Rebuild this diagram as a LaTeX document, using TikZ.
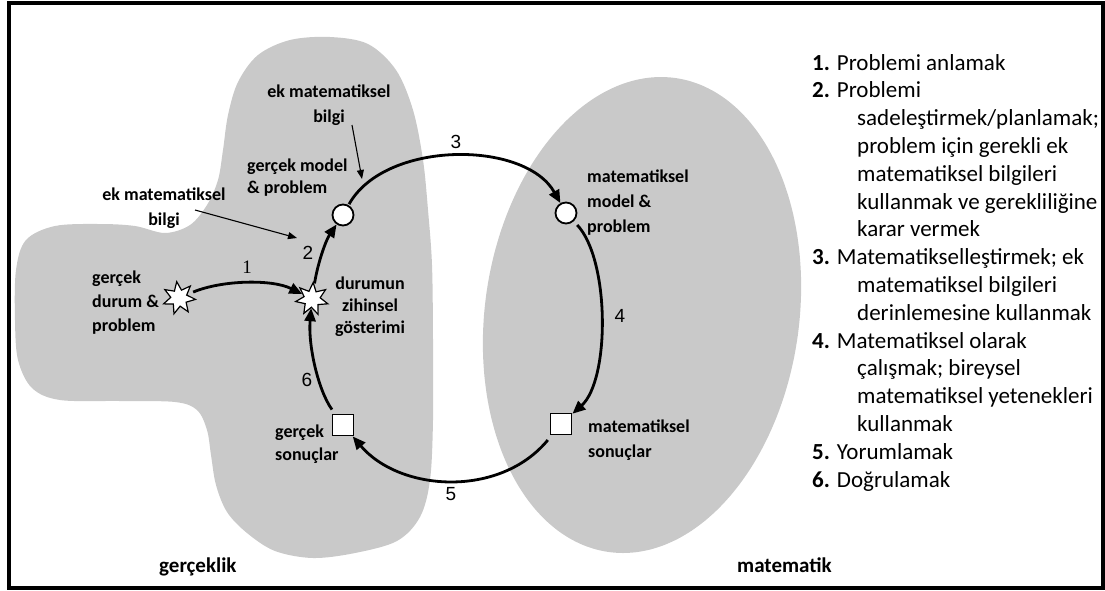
\documentclass[tikz,border=0pt]{standalone}
\usepackage{fontspec}
\setmainfont{Carlito}
\newfontfamily\numfont{Liberation Sans}
\newfontfamily\serifnum{Liberation Serif}
\usetikzlibrary{arrows.meta,shapes.geometric}
\definecolor{regiongray}{RGB}{201,201,201}

\begin{document}
\begin{tikzpicture}[x=1pt,y=-1pt,
  region/.style={fill=regiongray, draw=none},
  cycarrow/.style={line width=2.8pt, -{Triangle[length=13pt,width=11pt]}, shorten <=3pt},
  infoarrow/.style={line width=1.1pt, -{Triangle[length=9pt,width=7pt]}},
  burst/.style={star, star points=7, star point ratio=2, minimum size=33pt,
                inner sep=0pt, draw, line width=1.2pt, fill=white},
  modelnode/.style={circle, minimum size=21pt, inner sep=0pt, draw, line width=1.8pt, fill=white},
  resultnode/.style={rectangle, minimum size=21pt, inner sep=0pt, draw, line width=1.8pt, fill=white},
  lbl/.style={inner sep=0pt, font=\bfseries\fontsize{18}{#1}\selectfont},
  lbl/.default=22,
  regionlbl/.style={inner sep=0pt, anchor=base west, font=\bfseries\fontsize{21}{24}\selectfont},
  cyclenum/.style={inner sep=0pt, font=\numfont\fontsize{19}{22}\selectfont},
  listtext/.style={inner sep=0pt, align=left, font=\fontsize{23}{27.8}\selectfont},
]
\useasboundingbox (0,0) rectangle (1105,590);

% reality region
\fill[region] plot[smooth cycle, tension=0.55] coordinates {
  (330,37) (368,44) (396,70) (413,110) (423,160) (428,210) (432,265) (433,340)
  (433,420) (430,480) (420,517) (397,541) (355,553) (313,558) (275,551) (247,533)
  (227,512) (216,485) (211,455) (207,430) (197,410) (175,402) (120,401) (60,400)
  (32,388) (18,360) (15,320) (16,270) (26,240) (55,226) (100,224) (135,226)
  (165,233) (190,225) (207,205) (218,180) (223,150) (228,115) (238,82) (258,55) (290,40)};

% mathematics region: a slightly slanted oval
\fill[region] plot[domain=0:355, samples=72, smooth cycle]
  ({642+158*cos(\x)+19*sin(\x)}, {315-238*sin(\x)});

% cycle stations
\node[burst, rotate=8] (s1) at (179,298) {};
\node[burst, rotate=-4] (s2) at (312,299) {};
\node[modelnode] (c1) at (343,215) {};
\node[modelnode] (c2) at (566,213) {};
\node[resultnode] (q2) at (561,424) {};
\node[resultnode] (q1) at (343,425) {};

% station labels
\node[lbl=24, align=left, anchor=north west] (lreal) at (92,270.5) {gerçek\\durum \&\\problem};
\node[lbl=22, align=center, anchor=north] (lmental) at (370,276.5) {durumun\\zihinsel\\gösterimi};
\node[lbl=22, align=left, anchor=north west] (lrmodel) at (247,158.5) {gerçek model\\\& problem};
\node[lbl=25, align=center, anchor=north] (lextra1) at (329,84.5) {ek matematiksel\\bilgi};
\node[lbl=25, align=center, anchor=north] (lextra2) at (164,187.5) {ek matematiksel\\bilgi};
\node[lbl=25, align=left, anchor=north west] (lmmodel) at (587,169.5) {matematiksel\\model \&\\problem};
\node[lbl=25, align=left, anchor=north west] (lmres) at (588,419.5) {matematiksel\\sonuçlar};
\node[lbl=23, align=left, anchor=north west] (lrres) at (275,424.5) {gerçek\\sonuçlar};

\node[regionlbl] (lreality) at (159,572) {gerçeklik};
\node[regionlbl] (lmath) at (737,572) {matematik};

% modelling cycle
\draw[cycarrow, shorten <=6pt] (s1) .. controls (222,280) and (272,279) .. (s2);
\draw[cycarrow, shorten <=1pt] (s2) .. controls (318,262) and (326,240) .. (c1);
\draw[cycarrow, shorten <=1pt] (c1) .. controls (385,140) and (525,140) .. (c2);
\draw[cycarrow, shorten <=5pt] (c2) .. controls (610,260) and (610,380) .. (q2);
\draw[cycarrow, shorten <=6pt] (q2) .. controls (500,498) and (400,492) .. (q1);
\draw[cycarrow, shorten <=5pt] (q1) .. controls (318,390) and (308,345) .. (s2);

% extra knowledge pointers
\coordinate (k1s) at (352,125);
\coordinate (k1t) at (362,179);
\coordinate (k2s) at (195,210);
\coordinate (k2t) at (297,238);
\draw[infoarrow] (k1s) -- (k1t);
\draw[infoarrow] (k2s) -- (k2t);

% step numbers
\node[inner sep=0pt, font=\serifnum\fontsize{19}{22}\selectfont] (n1) at (247,267) {1};
\node[cyclenum] (n2) at (308,253) {2};
\node[cyclenum] (n3) at (456,142) {3};
\node[cyclenum] (n4) at (620,316) {4};
\node[cyclenum] (n5) at (451,494) {5};
\node[cyclenum] (n6) at (307,380) {6};

% list of steps
\node[listtext, anchor=north west] (steps) at (812,54) {%
\textbf{1.} Problemi anlamak\\
\textbf{2.} Problemi\\
\hspace*{45pt}sadeleştirmek/planlamak;\\
\hspace*{45pt}problem için gerekli ek\\
\hspace*{45pt}matematiksel bilgileri\\
\hspace*{45pt}kullanmak ve gerekliliğine\\
\hspace*{45pt}karar vermek\\
\textbf{3.} Matematikselleştirmek; ek\\
\hspace*{45pt}matematiksel bilgileri\\
\hspace*{45pt}derinlemesine kullanmak\\
\textbf{4.} Matematiksel olarak\\
\hspace*{45pt}çalışmak; bireysel\\
\hspace*{45pt}matematiksel yetenekleri\\
\hspace*{45pt}kullanmak\\
\textbf{5.} Yorumlamak\\
\textbf{6.} Doğrulamak};

% outer frame
\draw[line width=4pt] (8.5,2.5) rectangle (1103,587.5);
\end{tikzpicture}
\end{document}
